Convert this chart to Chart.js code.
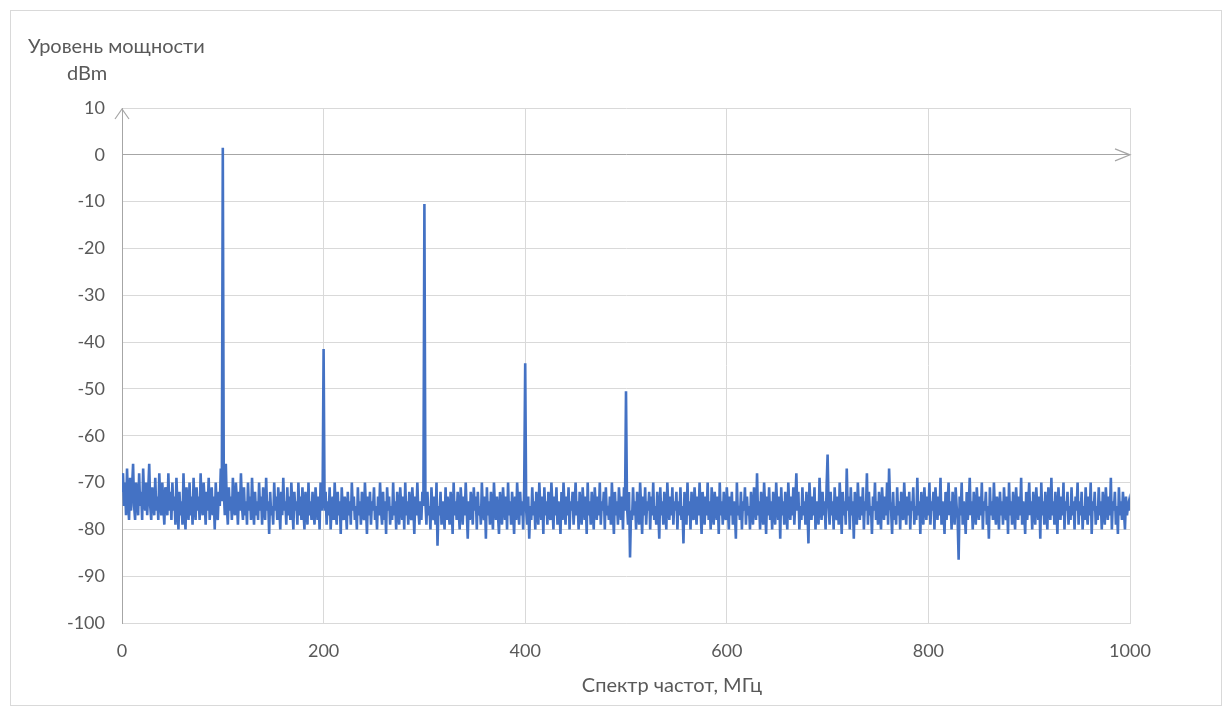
<!DOCTYPE html>
<html>
<head>
<meta charset="utf-8">
<script src="https://cdn.jsdelivr.net/npm/chart.js@4/dist/chart.umd.min.js"></script>
<style>
  html, body { margin: 0; padding: 0; background: #fff; }
  #wrap { width: 1230px; height: 707px; position: relative; }
</style>
</head>
<body>
<div id="wrap"><canvas id="spectrumChart" width="1230" height="707"></canvas></div>
<script>
// Frequency grid (MHz): one sample every 1 MHz from 0 to 1000
const freqStart = 0;
const freqStep = 1;

const levels = [
  -72, -68, -75, -70, -77, -67, -74, -78, -69, -76, -71, -66, -75, -78, -70, -73, -77, -68, -75, -72, -78, -67, -74, -76, -70,
  -77, -72, -66, -75, -78, -71, -74, -77, -69, -76, -73, -78, -68, -74, -77, -70, -75, -79, -71, -73, -77, -68, -76, -72, -78,
  -70, -76, -73, -79, -69, -75, -80, -72, -77, -74, -79, -68, -76, -80, -71, -75, -78, -70, -77, -73, -79, -69, -75, -78, -71,
  -76, -73, -78, -68, -75, -77, -70, -74, -79, -72, -76, -69, -78, -74, -71, -77, -73, -80, -70, -76, -78, -72, -75, -67, -74,
  1.5, -72, -77, -66, -75, -79, -71, -76, -73, -78, -69, -75, -77, -70, -74, -79, -72, -76, -68, -75, -78, -71, -77, -74, -79,
  -70, -76, -73, -78, -69, -75, -79, -72, -77, -74, -78, -70, -76, -73, -79, -71, -75, -78, -69, -76, -74, -81, -72, -77, -75,
  -79, -70, -76, -73, -78, -71, -75, -80, -72, -77, -69, -76, -74, -79, -71, -77, -73, -78, -70, -75, -80, -72, -76, -74, -79,
  -70, -77, -73, -78, -71, -76, -80, -72, -75, -79, -70, -77, -74, -78, -72, -76, -79, -71, -75, -78, -73, -80, -70, -76, -74,
  -41.5, -76, -72, -79, -74, -77, -71, -80, -75, -73, -78, -70, -76, -79, -72, -77, -74, -81, -71, -76, -78, -73, -75, -80, -72,
  -77, -74, -79, -70, -76, -73, -78, -75, -80, -71, -77, -74, -79, -72, -76, -78, -70, -75, -81, -73, -77, -72, -79, -74, -76,
  -71, -78, -75, -80, -73, -77, -70, -76, -79, -72, -78, -74, -81, -71, -76, -73, -79, -75, -78, -70, -77, -74, -80, -72, -76,
  -79, -71, -75, -78, -73, -80, -70, -77, -74, -79, -72, -76, -78, -71, -75, -81, -73, -77, -70, -76, -79, -74, -78, -72, -75,
  -10.5, -74, -79, -72, -77, -75, -80, -71, -76, -78, -73, -79, -70, -83.5, -75, -77, -72, -79, -74, -76, -80, -71, -78, -73, -76,
  -79, -72, -75, -81, -70, -77, -74, -78, -72, -76, -80, -71, -75, -79, -73, -77, -70, -76, -82, -74, -78, -72, -75, -79, -71,
  -76, -73, -80, -72, -77, -75, -79, -70, -76, -78, -73, -82, -71, -77, -74, -79, -72, -76, -80, -70, -75, -78, -73, -77, -81,
  -72, -76, -79, -71, -75, -78, -73, -80, -70, -77, -74, -79, -72, -76, -81, -73, -78, -70, -75, -79, -72, -77, -74, -80, -71,
  -44.5, -76, -79, -73, -82, -75, -78, -71, -77, -74, -80, -72, -76, -79, -70, -75, -78, -73, -81, -71, -77, -74, -79, -72, -76,
  -78, -70, -75, -80, -73, -77, -71, -79, -74, -76, -81, -72, -78, -70, -75, -79, -73, -77, -71, -80, -74, -76, -72, -79, -75,
  -70, -77, -74, -80, -72, -76, -79, -71, -75, -78, -73, -81, -70, -77, -74, -79, -72, -76, -80, -71, -75, -78, -73, -77, -70,
  -79, -74, -76, -72, -80, -71, -77, -75, -78, -73, -79, -70, -76, -81, -72, -77, -74, -79, -71, -75, -78, -73, -80, -71, -76,
  -50.5, -75, -79, -72, -86, -76, -78, -71, -77, -74, -80, -72, -76, -79, -70, -75, -81, -73, -77, -71, -79, -74, -76, -72, -80,
  -73, -77, -70, -78, -75, -79, -72, -76, -82, -71, -77, -74, -79, -72, -76, -80, -70, -75, -78, -73, -77, -71, -79, -74, -76,
  -72, -80, -74, -77, -71, -78, -75, -83, -72, -76, -79, -70, -77, -74, -80, -72, -76, -78, -71, -75, -79, -73, -77, -70, -76,
  -81, -72, -75, -79, -73, -77, -70, -78, -74, -80, -71, -76, -79, -72, -75, -78, -73, -81, -70, -77, -74, -79, -72, -76, -78,
  -71, -75, -80, -73, -77, -72, -79, -74, -76, -82, -70, -77, -75, -78, -72, -80, -74, -76, -71, -79, -73, -77, -75, -80, -72,
  -76, -79, -71, -75, -78, -68, -77, -74, -80, -72, -76, -79, -70, -75, -81, -73, -77, -71, -78, -74, -80, -72, -76, -79, -70,
  -75, -78, -73, -82, -71, -77, -74, -79, -72, -76, -80, -70, -75, -78, -73, -77, -71, -79, -74, -68, -76, -72, -80, -75, -78,
  -71, -77, -74, -79, -72, -76, -83, -70, -75, -78, -73, -77, -71, -80, -74, -76, -79, -69, -75, -78, -72, -77, -74, -80, -71,
  -64, -75, -79, -72, -77, -74, -80, -71, -76, -78, -73, -79, -70, -75, -81, -72, -77, -74, -79, -67, -76, -73, -80, -71, -77,
  -74, -82, -72, -76, -79, -70, -75, -78, -73, -77, -71, -80, -74, -76, -68, -79, -72, -77, -75, -81, -73, -76, -70, -78, -74,
  -79, -72, -76, -80, -71, -75, -78, -73, -77, -70, -79, -67, -74, -76, -81, -72, -78, -75, -79, -71, -77, -74, -80, -72, -76,
  -78, -70, -75, -79, -73, -77, -72, -80, -74, -76, -71, -79, -75, -78, -69, -77, -74, -81, -72, -76, -79, -71, -75, -78, -73,
  -77, -70, -79, -74, -76, -72, -80, -71, -75, -78, -73, -77, -69, -79, -74, -76, -81, -72, -78, -75, -70, -77, -74, -80, -72,
  -76, -79, -71, -75, -78, -86.5, -73, -77, -70, -79, -74, -76, -81, -72, -78, -75, -69, -77, -74, -80, -72, -76, -79, -71, -75,
  -78, -73, -77, -70, -80, -74, -76, -72, -79, -75, -82, -71, -77, -74, -78, -70, -76, -79, -73, -75, -80, -72, -77, -74, -79,
  -71, -76, -78, -73, -81, -70, -77, -74, -79, -72, -76, -80, -71, -75, -78, -73, -77, -69, -79, -74, -76, -81, -72, -78, -75,
  -70, -77, -74, -80, -72, -76, -79, -71, -75, -78, -73, -82, -70, -77, -74, -79, -72, -76, -80, -71, -75, -78, -69, -77, -74,
  -79, -72, -76, -81, -71, -75, -78, -73, -77, -70, -80, -74, -76, -72, -79, -75, -78, -71, -77, -74, -80, -73, -76, -70, -79,
  -74, -77, -72, -80, -75, -78, -71, -76, -79, -73, -77, -70, -81, -74, -76, -72, -79, -75, -78, -71, -77, -74, -80, -72, -76,
  -79, -71, -75, -78, -73, -77, -69, -80, -74, -76, -72, -79, -75, -81, -71, -77, -74, -78, -72, -76, -80, -73, -77, -75, -74,
  -76
];

// Axis ticks
const xTicks = [0, 200, 400, 600, 800, 1000];
const yTicks = [10, 0, -10, -20, -30, -40, -50, -60, -70, -80, -90, -100];

const yTitle = ['Уровень мощности', 'dBm'];
const xTitle = 'Спектр частот, МГц';

const points = levels.map((v, i) => ({ x: freqStart + i * freqStep, y: v }));

// frame, axis titles and arrow heads
const decorations = {
  id: 'decorations',
  beforeDraw(chart) {
    const c = chart.ctx;
    c.save();
    c.strokeStyle = '#d9d9d9';
    c.lineWidth = 1;
    c.strokeRect(10.5, 10.5, 1211, 695);
    c.restore();
  },
  afterDraw(chart) {
    const c = chart.ctx;
    const a = chart.chartArea;
    const y0 = chart.scales.y.getPixelForValue(0);
    c.save();
    c.strokeStyle = '#a6a6a6';
    c.lineWidth = 1.2;
    c.beginPath();
    c.moveTo(a.left - 7, a.top + 11);
    c.lineTo(a.left, a.top + 1);
    c.lineTo(a.left + 7, a.top + 11);
    c.moveTo(a.right - 15, y0 - 6);
    c.lineTo(a.right, y0);
    c.lineTo(a.right - 15, y0 + 6);
    c.stroke();

    c.fillStyle = '#595959';
    c.font = '20px Lato';
    c.textBaseline = 'middle';
    c.textAlign = 'left';
    c.fillText(yTitle[0], 28, 47);
    c.fillText(yTitle[1], 67, 74);
    c.textAlign = 'center';
    c.fillText(xTitle, 672, 686);
    c.restore();
  }
};

const config = {
  type: 'line',
  data: {
    datasets: [{
      label: 'dBm',
      data: points,
      borderColor: '#4472C4',
      borderWidth: 2.6,
      pointRadius: 0,
      tension: 0,
      fill: false
    }]
  },
  options: {
    responsive: false,
    animation: false,
    layout: { padding: { left: 0, right: 100, top: 108, bottom: 0 } },
    plugins: {
      legend: { display: false },
      tooltip: { enabled: false }
    },
    scales: {
      x: {
        type: 'linear',
        min: 0,
        max: 1000,
        afterBuildTicks(s) { s.ticks = xTicks.map(v => ({ value: v })); },
        afterFit(s) { s.height = 84; },
        ticks: {
          color: '#595959',
          font: { family: 'Lato', size: 18 },
          padding: 17,
          maxRotation: 0,
          callback: v => String(v)
        },
        grid: { color: '#d9d9d9', drawTicks: false },
        border: { color: '#d9d9d9' }
      },
      y: {
        min: -100,
        max: 10,
        afterBuildTicks(s) { s.ticks = yTicks.map(v => ({ value: v })); },
        afterFit(s) { s.width = 122; },
        ticks: { color: '#595959', font: { family: 'Lato', size: 18 }, padding: 17 },
        grid: {
          color: ctx => (ctx.tick && ctx.tick.value === 0 ? '#a6a6a6' : '#d9d9d9'),
          drawTicks: false
        },
        border: { color: '#a6a6a6' }
      }
    }
  },
  plugins: [decorations]
};

window.onload = function() {
  const ctx = document.getElementById('spectrumChart').getContext('2d');
  new Chart(ctx, config);
};
</script>
</body>
</html>
